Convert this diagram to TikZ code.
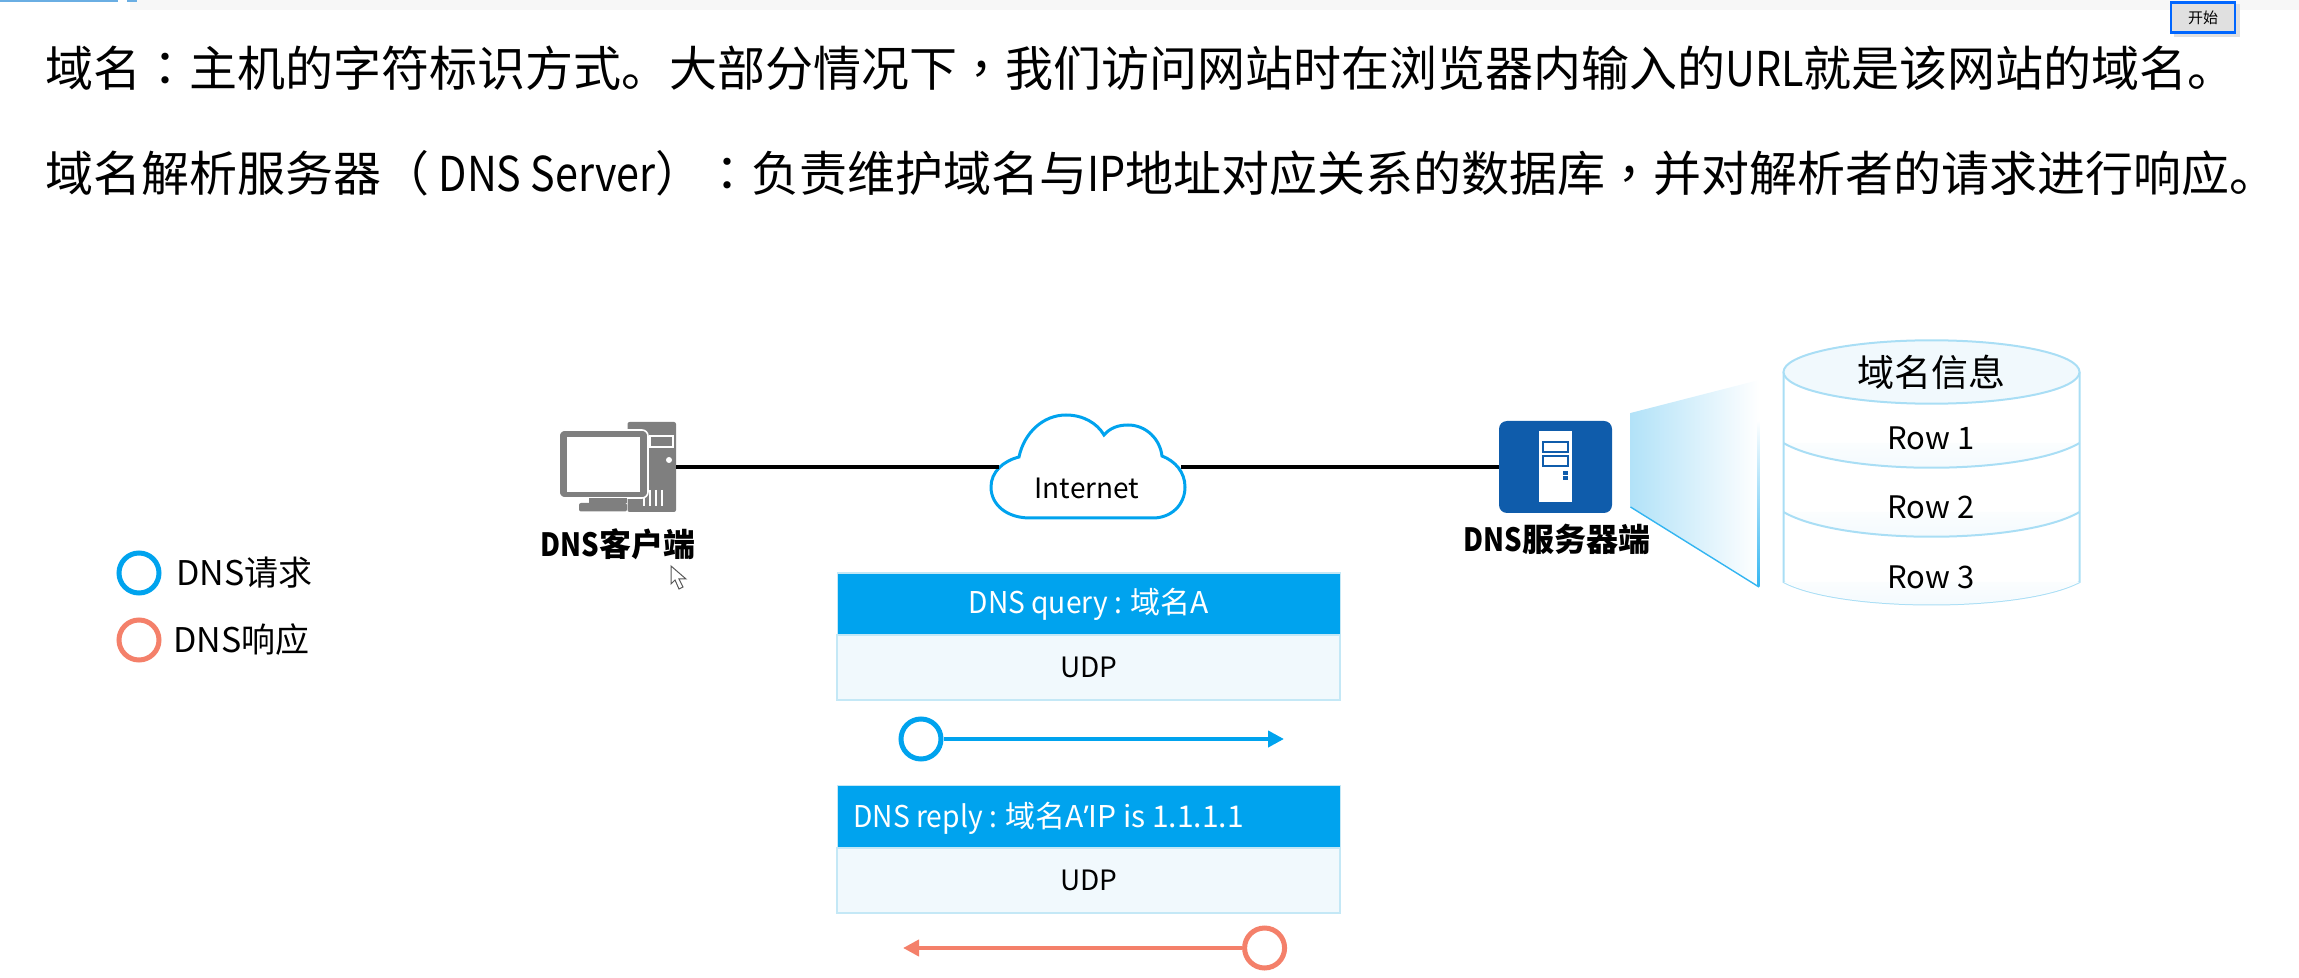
\documentclass[tikz,border=0pt]{standalone}
\usepackage{fontspec}
\setmainfont{Noto Sans CJK SC}
\newfontfamily\markfont{Noto Sans CJK TC}
\newfontfamily\thinfont[FakeStretch=0.86]{Noto Sans CJK SC}
\newfontfamily\barfont[FakeStretch=0.94]{Noto Sans CJK SC}
\newfontfamily\quotefont{Noto Sans}
\usetikzlibrary{arrows.meta}
\definecolor{skyBlue}{HTML}{00A3EE}
\definecolor{replyRed}{HTML}{F4806A}
\definecolor{paleBlue}{HTML}{F1F9FD}
\definecolor{edgeBlue}{HTML}{C4E8F6}
\definecolor{rowBlue}{HTML}{A9DEF5}
\definecolor{beamBlue}{HTML}{B2E2F8}
\definecolor{serverBlue}{HTML}{0F5CAB}
\definecolor{pcGray}{HTML}{7F7F7F}
\newcommand{\mk}[1]{{\markfont #1}}
\newcommand{\lat}[1]{{\thinfont #1}}
\newcommand{\bart}[1]{{\barfont #1}}
\begin{document}
\begin{tikzpicture}
[x=0.5pt,y=-0.5pt,%
  headLine/.style={anchor=west,inner sep=0pt,font=\fontsize{24}{28}\selectfont},%
  labelDecorate/.style={inner sep=0pt,font=\fontsize{16}{19}\selectfont\bfseries},%
  rowText/.style={inner sep=0pt,font=\fontsize{15.5}{19}\selectfont},%
  barText/.style={inner sep=0pt,text=white,font=\fontsize{15}{18}\selectfont},%
  headBar/.style={shape=rectangle,inner sep=0pt,fill=skyBlue,draw=edgeBlue,line width=0.8pt,%
    minimum width=251.5pt,minimum height=31pt,text=white,font=\fontsize{15}{18}\selectfont},%
  udpBox/.style={shape=rectangle,inner sep=0pt,fill=paleBlue,draw=edgeBlue,line width=1pt,%
    minimum width=251.5pt,minimum height=32.5pt,font=\fontsize{14}{18}\selectfont},%
  blueRing/.style={shape=circle,inner sep=0pt,minimum size=20pt,fill=white,draw=skyBlue,line width=2.5pt},%
  redRing/.style={shape=circle,inner sep=0pt,minimum size=20pt,fill=white,draw=replyRed,line width=2.5pt},%
  lineDecorate/.style={-,line width=1.6pt},%
  tableLine/.style={draw=rowBlue,line width=1pt}]
\useasboundingbox (0,0) rectangle (2299,978);
%% window top
\fill[black!3] (130,0) rectangle (2299,10);
\fill[cyan!70!blue!60] (0,0) rectangle (118,2);
\fill[cyan!70!blue!60] (127,0) rectangle (137,2);
\fill[black!12] (2174,4) rectangle (2240,37);
\node (startBtn) at (2203,17.5) [shape=rectangle,inner sep=0pt,minimum width=32pt,minimum height=15pt,%
  fill=black!12,draw=blue!60!cyan,line width=1.4pt,font=\fontsize{7.5}{9}\selectfont] {开始};
%% two lines of text
\node (domainLine) at (45,68) [headLine] {域名\mk{^^^^ff1a}主机的字符标识方式。大部分情况下\mk{^^^^ff0c}我们访问网站时在浏览器内输入的\lat{URL}就是该网站的域名。};
\node (serverLine) at (45,173) [headLine] {域名解析服务器\mk{^^^^ff08}\lat{ DNS Server}\mk{^^^^ff09}\mk{^^^^ff1a}负责维护域名与\lat{IP}地址对应关系的数据库\mk{^^^^ff0c}并对解析者的请求进行响应。};
%% legend
\node (legendQuery) at (139,573) [blueRing] {};
\node (legendReply) at (139,640) [redRing] {};
\node (legendQueryText) at (176,573) [anchor=west,inner sep=0pt,font=\fontsize{17}{20}\selectfont] {DNS请求};
\node (legendReplyText) at (173,640) [anchor=west,inner sep=0pt,font=\fontsize{17}{20}\selectfont] {DNS响应};
%% client computer
\node (clientTower) at (651.75,467) [shape=rectangle,rounded corners=1pt,inner sep=0pt,minimum width=24.25pt,minimum height=45pt,fill=pcGray] {};
\fill[white] (649,435) rectangle (673.5,448);
\fill[pcGray] (651,437) rectangle (671.5,446);
\fill[white] (669,460) circle (3);
\foreach \x in {644,650,656,662}
{
  \draw[white,line width=0.6pt] (\x,490) -- (\x,506);
}
\fill[pcGray,draw=white,line width=0.8pt,rounded corners=3pt] (559,430) rectangle (648,498);
\fill[white] (567,437) rectangle (640,492);
\fill[pcGray] (589,498) rectangle (627,503);
\fill[pcGray,rounded corners=1pt] (579,503) rectangle (627,511.5);
\node (clientLabel) at (618,544) [labelDecorate] {\lat{DNS}客户端};
%% mouse pointer
\filldraw[fill=white,draw=black!65,line width=0.5pt] (671,566) -- (671,584) -- (675,580) -- (679,589) -- (683,587) -- (679,579) -- (686,579) -- cycle;
%% cloud
\coordinate (cloudWest) at (999,467);
\coordinate (cloudEast) at (1181,467);
\filldraw[fill=white,draw=skyBlue,line width=1.5pt] (1030,518) .. controls (1007,518) and (991,505) .. (991,487)
  .. controls (991,472) and (1003,461) .. (1019,457) .. controls (1024,433) and (1043,415) .. (1066,415)
  .. controls (1083,415) and (1097,423) .. (1104,435) .. controls (1110,428) and (1118,425) .. (1128,425)
  .. controls (1146,425) and (1160,439) .. (1162,456) .. controls (1175,461) and (1185,472) .. (1185,487)
  .. controls (1185,505) and (1171,518) .. (1153,518) -- cycle;
\node (internet) at (1087,488) [inner sep=0pt,font=\fontsize{14}{17}\selectfont] {Internet};
%% server
\node (serverIcon) at (1555.5,467) [shape=rectangle,rounded corners=4pt,inner sep=0pt,minimum width=56.5pt,minimum height=46pt,fill=serverBlue] {};
\fill[white] (1539,431) rectangle (1572,502);
\draw[serverBlue,line width=1pt] (1543,442) rectangle (1568,452);
\draw[serverBlue,line width=1pt] (1543,456) rectangle (1568,466);
\fill[serverBlue] (1563,471) rectangle (1568,475);
\fill[serverBlue] (1563,476) rectangle (1568,480);
\node (serverLabel) at (1557,539) [labelDecorate] {\lat{DNS}服务器端};
%% edges or lines
\path
\foreach \startnode/\endnode in {clientTower.east/cloudWest, cloudEast/serverIcon.west}
{
  (\startnode) edge[lineDecorate] (\endnode)
};
%% beam to table
\shade[left color=beamBlue,right color=white] (1630.5,413) -- (1759,380) -- (1759,587) -- (1630.5,507) -- cycle;
\draw[skyBlue!80,line width=0.7pt] (1630.5,507) -- (1759,587);
\shade[top color=white,bottom color=skyBlue!80] (1757.5,420) rectangle (1759.5,587);
%% table
\draw[tableLine] (1783.5,372) -- (1783.5,582) .. controls (1840,612) and (2023,612) .. (2079.5,582) -- (2079.5,372);
\foreach \y in {443,512}
{
  \shade[top color=paleBlue!30!white,bottom color=paleBlue] (1783.5,\y) .. controls (1840,\y+33) and (2023,\y+33) .. (2079.5,\y) -- cycle;
  \draw[tableLine] (1783.5,\y) .. controls (1840,\y+33) and (2023,\y+33) .. (2079.5,\y);
}
\shade[top color=paleBlue!30!white,bottom color=paleBlue] (1783.5,582) .. controls (1840,612) and (2023,612) .. (2079.5,582) -- cycle;
\draw[tableLine,fill=paleBlue] (1931.5,372) ellipse (148 and 31.7);
\node (tableName) at (1931,372) [inner sep=0pt,font=\fontsize{18.5}{22}\selectfont] {域名信息};
\foreach \rowname/\y in {1/438, 2/507, 3/577}
{
  \node (row\rowname) at (1931,\y) [rowText] {Row \rowname};
}
%% query
\node (queryHead) at (1088.8,604) [headBar] {\bart{DNS query : }域名A};
\node (queryUdp) at (1088.8,667.5) [udpBox] {UDP};
\node (queryRing) at (921,739) [blueRing] {};
\coordinate (queryTip) at (1284,739);
\draw[-{Triangle[length=8pt,width=8pt]},draw=skyBlue,fill=skyBlue,line width=2pt] (queryRing) -- (queryTip);
%% reply
\node (replyHead) at (1088.8,816.5) [headBar] {};
\node (replyText) at (853,818) [barText,anchor=west] {\bart{DNS reply : }域名A{\quotefont ’}IP is 1.1.1.1};
\node (replyUdp) at (1088.8,880) [udpBox] {UDP};
\node (replyRing) at (1264.6,948) [redRing] {};
\coordinate (replyTip) at (903,948);
\draw[-{Triangle[length=8pt,width=8pt]},draw=replyRed,fill=replyRed,line width=2pt] (replyRing) -- (replyTip);
\end{tikzpicture}
\end{document}
